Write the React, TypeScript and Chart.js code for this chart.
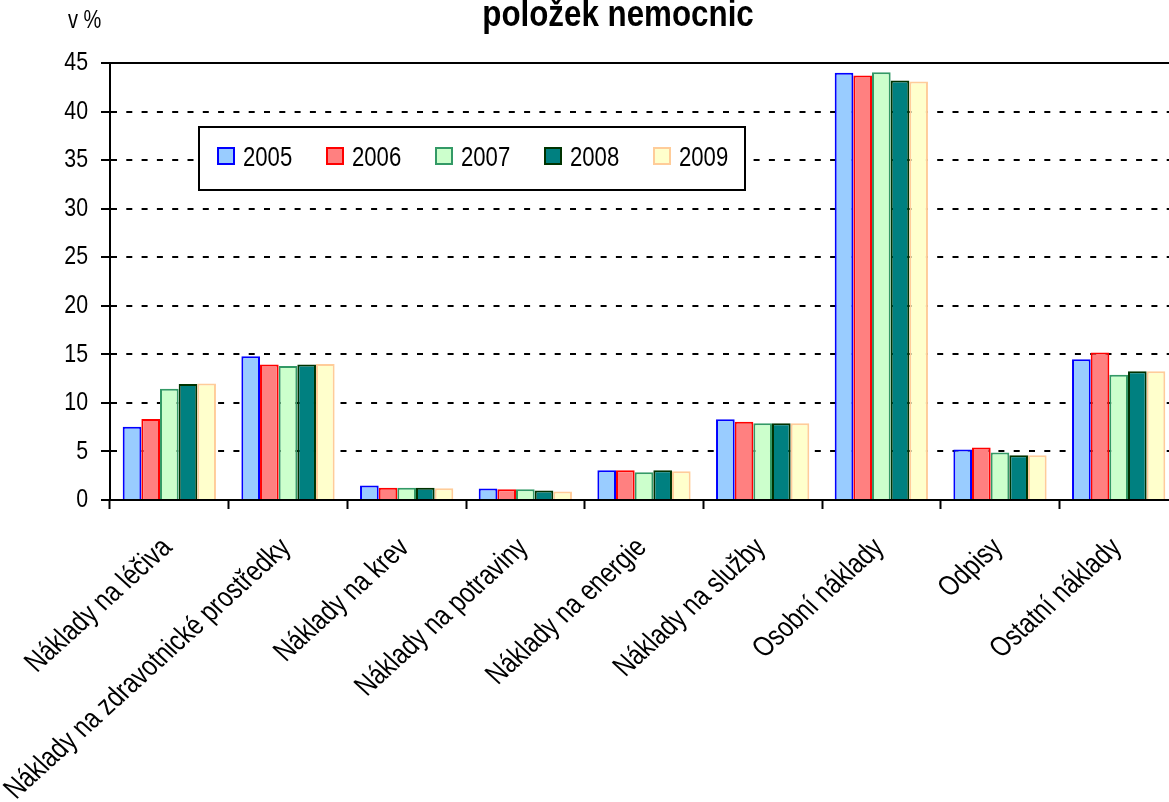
import React, { useEffect, useRef } from "react";
import { Chart, registerables } from "chart.js";

Chart.register(...registerables);

const categories = [
  "Náklady na léčiva",
  "Náklady na zdravotnické prostředky",
  "Náklady na krev",
  "Náklady na potraviny",
  "Náklady na energie",
  "Náklady na služby",
  "Osobní náklady",
  "Odpisy",
  "Ostatní náklady",
];

const years = ["2005", "2006", "2007", "2008", "2009"];

const values2005 = [7.55, 14.8, 1.5, 1.18, 3.07, 8.32, 44.0, 5.2, 14.5];
const values2006 = [8.35, 13.95, 1.25, 1.1, 3.07, 8.05, 43.7, 5.4, 15.2];
const values2007 = [11.45, 13.8, 1.25, 1.1, 2.87, 7.91, 44.05, 4.9, 12.9];
const values2008 = [11.95, 13.95, 1.25, 0.98, 3.07, 7.91, 43.2, 4.6, 13.25];
const values2009 = [12.0, 14.0, 1.2, 0.88, 2.97, 7.91, 43.1, 4.6, 13.25];

const fillColors = ["#99CCFF", "#FF8080", "#CCFFCC", "#008080", "#FFFFCC"];
const borderColors = ["#0000FF", "#FF0000", "#339966", "#003300", "#FFCC99"];

const yTicks = [0, 5, 10, 15, 20, 25, 30, 35, 40, 45];

const titleText = "položek nemocnic";
const unitText = "v %";

const FONT = "'Liberation Sans', Arial, sans-serif";

function narrowText(
  ctx: CanvasRenderingContext2D,
  text: string,
  x: number,
  y: number,
  size: number,
  opts: {
    bold?: boolean;
    align?: CanvasTextAlign;
    baseline?: CanvasTextBaseline;
    sx?: number;
    rot?: number;
    stretch?: number;
  } = {}
) {
  ctx.save();
  ctx.translate(x, y);
  if (opts.stretch) ctx.transform(opts.stretch, 0, 0, 1, 0, 0);
  if (opts.rot) ctx.rotate(opts.rot);
  ctx.scale(opts.sx ?? 0.82, 1);
  ctx.font = (opts.bold ? "bold " : "") + size + "px " + FONT;
  ctx.textAlign = opts.align ?? "left";
  ctx.textBaseline = opts.baseline ?? "alphabetic";
  ctx.fillStyle = "#000";
  ctx.fillText(text, 0, 0);
  ctx.restore();
}

const decorPlugin = {
  id: "decor",
  afterDraw(chart: any) {
    const ctx: CanvasRenderingContext2D = chart.ctx;
    const area = chart.chartArea;
    const xScale = chart.scales.x;
    const yScale = chart.scales.y;
    ctx.save();
    // solid top line at max
    ctx.strokeStyle = "#000";
    ctx.lineWidth = 2;
    ctx.setLineDash([]);
    ctx.beginPath();
    ctx.moveTo(area.left - 9, area.top);
    ctx.lineTo(area.right, area.top);
    ctx.stroke();

    // y tick labels
    yScale.ticks.forEach((t: any) => {
      const py = yScale.getPixelForValue(t.value);
      narrowText(ctx, String(t.value), 88, py, 26, { align: "right", baseline: "middle" });
    });

    // x category labels, rotated
    xScale.ticks.forEach((_t: any, i: number) => {
      const px = xScale.getPixelForTick(i);
      narrowText(ctx, String(chart.data.labels[i]), px + 4, 549, 28, {
        align: "right",
        rot: -Math.PI / 4,
        sx: 0.8,
        stretch: 1.1,
      });
    });

    // title
    narrowText(ctx, titleText, 618, 26, 36, { bold: true, align: "center", sx: 0.87 });

    // unit
    narrowText(ctx, unitText, 68, 28, 25, { sx: 0.8 });

    // legend box
    const lx = 199, ly = 127, lw = 546, lh = 63;
    ctx.fillStyle = "#fff";
    ctx.fillRect(lx, ly, lw, lh);
    ctx.strokeStyle = "#000";
    ctx.lineWidth = 2;
    ctx.strokeRect(lx, ly, lw, lh);
    chart.data.datasets.forEach((ds: any, i: number) => {
      const sx = 217 + i * 109;
      const sy = 147;
      ctx.fillStyle = ds.backgroundColor;
      ctx.fillRect(sx, sy, 18, 18);
      ctx.strokeStyle = ds.borderColor;
      ctx.lineWidth = 2;
      ctx.strokeRect(sx + 1, sy + 1, 16, 16);
      narrowText(ctx, ds.label, sx + 26, 166, 28, { sx: 0.79 });
    });
    ctx.restore();
  },
};

export default function App() {
  const canvasRef = useRef<HTMLCanvasElement | null>(null);

  useEffect(() => {
    const canvas = canvasRef.current;
    if (!canvas) return;
    const seriesValues = [values2005, values2006, values2007, values2008, values2009];
    const chart = new Chart(canvas, {
      type: "bar",
      data: {
        labels: categories,
        datasets: years.map((y, i) => ({
          label: y,
          data: seriesValues[i],
          backgroundColor: fillColors[i],
          borderColor: borderColors[i],
          borderWidth: 2,
          categoryPercentage: 0.786,
          barPercentage: 1,
        })),
      },
      options: {
        responsive: false,
        animation: false,
        devicePixelRatio: 1,
        layout: { padding: { top: 63, right: 2, left: 0, bottom: 0 } },
        plugins: {
          legend: { display: false },
          title: { display: false },
          tooltip: { enabled: false },
        },
        scales: {
          x: {
            grid: {
              display: true,
              offset: true,
              drawOnChartArea: false,
              drawTicks: true,
              tickLength: 9,
              tickColor: "#000",
              tickWidth: 2,
            },
            border: { display: true, color: "#000", width: 2 },
            ticks: { display: false, autoSkip: false },
            afterFit(scale: any) {
              scale.height = 302;
            },
          },
          y: {
            min: 0,
            max: 45,
            afterBuildTicks(scale: any) {
              scale.ticks = yTicks.map((v) => ({ value: v }));
            },
            grid: {
              color: "#000",
              lineWidth: 2,
              drawTicks: true,
              tickLength: 9,
              tickColor: "#000",
              tickWidth: 2,
              tickBorderDash: [],
            },
            border: { display: true, color: "#000", width: 2, dash: [6, 9.3] },
            ticks: { display: false },
            afterFit(scale: any) {
              scale.width = 110;
            },
          },
        },
      },
      plugins: [decorPlugin],
    });
    return () => chart.destroy();
  }, []);

  return (
    <div
      style={{
        position: "fixed",
        left: 0,
        top: 0,
        width: 1169,
        height: 802,
        overflow: "hidden",
        background: "#fff",
      }}
    >
      <canvas ref={canvasRef} width={1180} height={802} style={{ display: "block" }} />
    </div>
  );
}
